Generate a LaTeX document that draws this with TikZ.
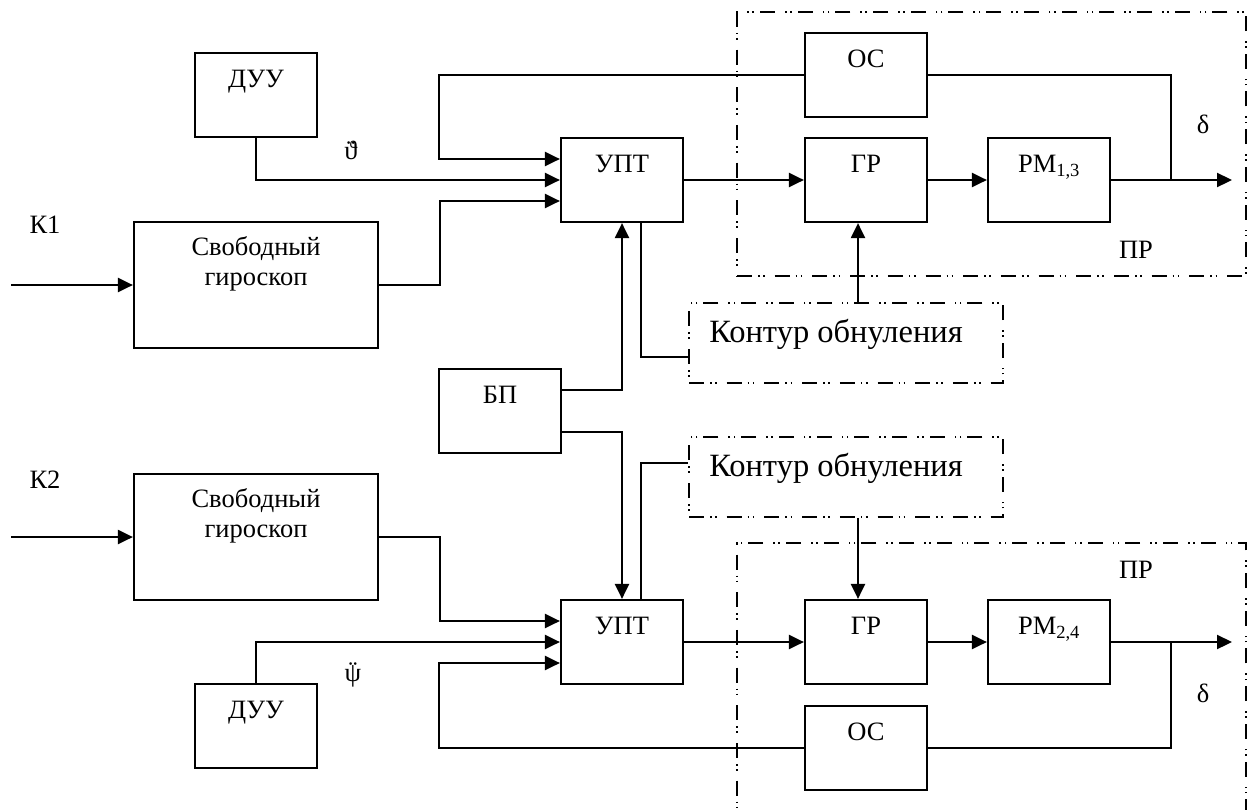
\documentclass[tikz,border=0pt]{standalone}
\usepackage{fontspec}
\setmainfont{Liberation Serif}
\usetikzlibrary{arrows.meta,positioning}
\newcommand\dotsover[2][0pt]{\ooalign{#2\cr\hidewidth\raisebox{#1}{¨}\hidewidth\cr}}

\begin{document}
\begin{tikzpicture}[x=1pt, y=-1pt, >={Triangle[length=15pt, width=14pt]},
  every node/.style={font=\fontsize{26.5}{30}\selectfont},
  blk/.style={draw, line width=2.2pt, minimum width=122pt, minimum height=84pt, inner sep=0pt,
    label={[anchor=base, yshift=-36pt, align=center]north:#1}},
  gyro/.style={draw, line width=2.2pt, minimum width=244pt, minimum height=126pt, inner sep=0pt,
    label={[anchor=base, yshift=-65pt, align=center]north:Свободный\\гироскоп}},
  dashdot/.style={line width=1.6pt, dash pattern=on 15pt off 6pt on 1.6pt off 3.5pt on 1.6pt off 10pt},
  kont/.style={draw, dashdot, minimum width=314pt, minimum height=80pt,
    label={[anchor=base, yshift=-40pt, xshift=-10pt, font=\fontsize{32.5}{36}\selectfont]north:Контур обнуления}},
  arr/.style={->, line width=2.2pt},
  ln/.style={line width=2.2pt}]
  \useasboundingbox (0,0) rectangle (1252,809);

  % upper channel
  \node[blk=ДУУ] (duu1) at (256,95) {};
  \node[gyro] (gyro1) at (256,285) {};
  \node[blk=УПТ] (upt1) at (622,180) {};
  \node[blk=ОС] (os1) at (866,75) {};
  \node[blk=ГР] (gr1) at (866,180) {};
  \node[blk=РМ\textsubscript{1,3}] (rm1) at (1049,180) {};
  \node[kont] (kont1) at (846,343) {};
  \node[draw, dashdot, minimum width=509pt, minimum height=264pt] (pr1) at (991.5,144) {};

  \node[blk=БП] (bp) at (500,411) {};

  % lower channel
  \node[kont] (kont2) at (846,477) {};
  \node[gyro] (gyro2) at (256,537) {};
  \node[blk=УПТ] (upt2) at (622,642) {};
  \node[blk=ГР] (gr2) at (866,642) {};
  \node[blk=РМ\textsubscript{2,4}] (rm2) at (1049,642) {};
  \node[blk=ОС] (os2) at (866,748) {};
  \node[blk=ДУУ] (duu2) at (256,726) {};
  \node[draw, dashdot, minimum width=509pt, minimum height=290pt] (pr2) at (991.5,688) {};

  % signal labels
  \node[anchor=base] (k1) at (45,233) {К1};
  \node[anchor=base] (k2) at (45,488) {К2};
  \node[anchor=base] (th) at (351,159) {\dotsover[1pt]{ϑ}};
  \node[anchor=base] (psi) at (353,681) {\dotsover[2pt]{ψ}};
  \node[anchor=base] (d1) at (1203,133) {δ};
  \node[anchor=base] (d2) at (1203,702) {δ};
  \node[anchor=base] (pr1lbl) at (1136,258) {ПР};
  \node[anchor=base] (pr2lbl) at (1136,578) {ПР};

  \coordinate (bus) at (439,0);
  \coordinate (k1in) at (11,285);
  \coordinate (k2in) at (11,537);
  \coordinate (out1) at (1232,180);
  \coordinate (out2) at (1232,642);
  \coordinate (br1) at (1171,180);
  \coordinate (br2) at (1171,642);

  % upper connections
  \draw[arr] (k1in) -- (gyro1.west);
  \draw[arr] (duu1.south) |- (upt1.west);
  \draw[arr] (gyro1.east) -- ++(61pt,0) |- ([yshift=-21pt]upt1.west);
  \draw[arr] (os1.west) -- (os1.west -| bus) |- ([yshift=21pt]upt1.west);
  \draw[arr] (upt1.east) -- (gr1.west);
  \draw[arr] (gr1.east) -- (rm1.west);
  \draw[arr] (rm1.east) -- (out1);
  \draw[ln] (br1) |- (os1.east);
  \draw[ln] ([xshift=19pt]upt1.south) |- ([yshift=-14pt]kont1.west);
  \draw[arr] ([xshift=12pt]kont1.north) -- ([xshift=-8pt]gr1.south);
  \draw[arr] ([yshift=21pt]bp.east) -| (upt1.south);

  % lower connections
  \draw[arr] ([yshift=-21pt]bp.east) -| (upt2.north);
  \draw[ln] ([xshift=19pt]upt2.north) |- ([yshift=14pt]kont2.west);
  \draw[arr] ([xshift=12pt]kont2.south) -- ([xshift=-8pt]gr2.north);
  \draw[arr] (k2in) -- (gyro2.west);
  \draw[arr] (gyro2.east) -- ++(61pt,0) |- ([yshift=21pt]upt2.west);
  \draw[arr] (duu2.north) |- (upt2.west);
  \draw[arr] (os2.west) -- (os2.west -| bus) |- ([yshift=-21pt]upt2.west);
  \draw[arr] (upt2.east) -- (gr2.west);
  \draw[arr] (gr2.east) -- (rm2.west);
  \draw[arr] (rm2.east) -- (out2);
  \draw[ln] (br2) |- (os2.east);
\end{tikzpicture}
\end{document}
